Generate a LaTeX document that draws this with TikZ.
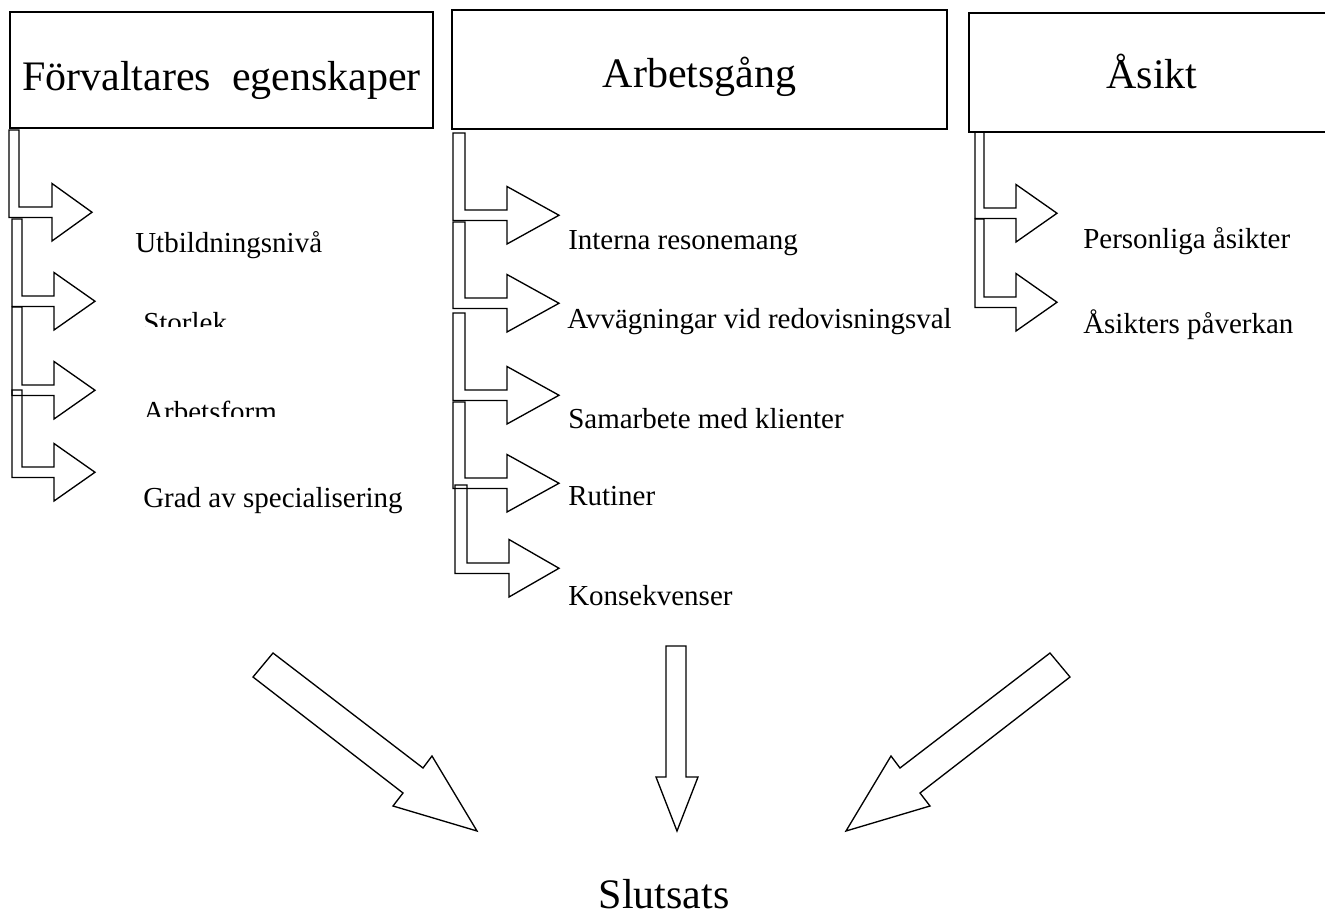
\documentclass[tikz,border=0pt]{standalone}
\usepackage{fontspec}
\setmainfont{Liberation Serif}
\usetikzlibrary{positioning}

% bent arrow: outer x, inner x, top y, shaft y, head x, tip x
\newcommand{\bentarr}[6]{%
  \draw[arr] (#1,#3) -- (#2,#3) -- (#2,#4) -- (#5,#4) -- (#5,#4-23.5)
    -- (#6,#4+5.25) -- (#5,#4+34) -- (#5,#4+10.5) -- (#1,#4+10.5) -- cycle;}

\begin{document}
\begin{tikzpicture}[x=0.75pt,y=-0.75pt,
  arr/.style={draw=black,line width=1pt,line join=miter},
  head/.style={inner sep=0pt,anchor=base,font=\fontsize{31.5}{36}\selectfont},
  item/.style={inner sep=0pt,anchor=base west,font=\fontsize{21.75}{25}\selectfont}]
  \useasboundingbox (0,0) rectangle (1325,924);

  % headings
  \draw[arr] (10,12) rectangle (433,128);
  \node[head] (forv) at (221.5,90) {Förvaltares\ \ egenskaper};
  \draw[arr] (452,10) rectangle (947,129);
  \node[head] (arb) at (699.5,88) {Arbetsgång};
  \draw[arr] (969,13) rectangle (1340,132);
  \node[head] (asikt) at (1152,89) {Åsikt};

  % left column
  \bentarr{9}{19}{130}{207}{52}{92}
  \bentarr{12}{22}{219}{296}{54}{95}
  \bentarr{12}{22}{307}{385}{54}{95}
  \bentarr{12}{22}{390}{467}{54}{95}
  \node[item] (utb) at (135,252) {Utbildningsnivå};
  \begin{scope}
    \clip (130,290) rectangle (330,326);
    \node[item] (stor) at (143,332) {Storlek};
  \end{scope}
  \begin{scope}
    \clip (130,380) rectangle (330,416);
    \node[item] (form) at (143,421) {Arbetsform};
  \end{scope}
  \node[item] (grad) at (143,507) {Grad av specialisering};

  % middle column
  \bentarr{453}{465}{133}{210}{507}{559}
  \bentarr{453}{465}{222}{298}{507}{559}
  \bentarr{453}{465}{313}{390}{507}{559}
  \bentarr{453}{465}{402}{478}{507}{559}
  \bentarr{455}{467}{485}{563}{509}{559}
  \node[item] (intr) at (568,249) {Interna resonemang};
  \node[item] (avv) at (567,328) {Avvägningar vid redovisningsval};
  \node[item] (sam) at (568,428) {Samarbete med klienter};
  \node[item] (rut) at (568,505) {Rutiner};
  \node[item] (kons) at (568,605) {Konsekvenser};

  % right column
  \bentarr{975}{984}{132}{208}{1016}{1057}
  \bentarr{975}{984}{219}{297}{1016}{1057}
  \node[item] (pers) at (1083,248) {Personliga åsikter};
  \node[item] (pav) at (1083,333) {Åsikters påverkan};

  % towards the conclusion
  \draw[arr] (273,653) -- (253,677) -- (403,793) -- (393,806) -- (477,831)
    -- (432,756) -- (423,768) -- cycle;
  \draw[arr] (666,646) -- (686,646) -- (686,777) -- (698,777) -- (677,831)
    -- (656,777) -- (666,777) -- cycle;
  \draw[arr] (1050,653) -- (1070,677) -- (920,793) -- (930,806) -- (846,831)
    -- (891,756) -- (900,768) -- cycle;
  \node[head] (slut) at (664,908) {Slutsats};
\end{tikzpicture}
\end{document}
